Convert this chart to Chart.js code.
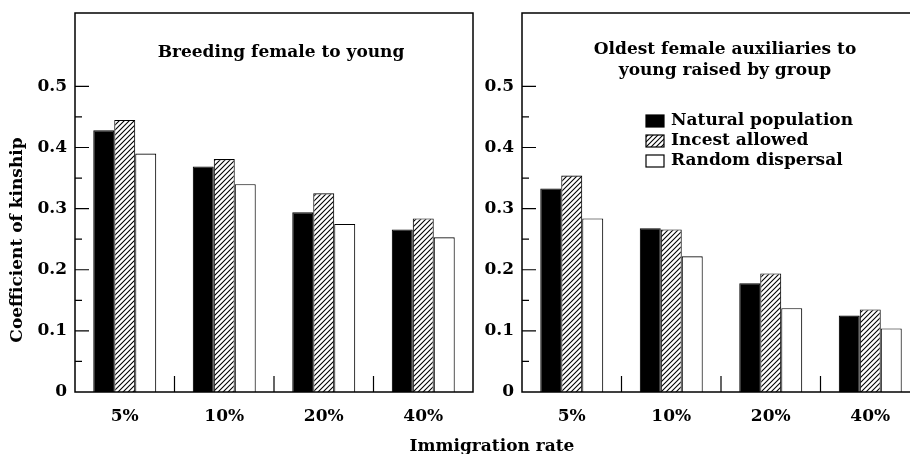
<!DOCTYPE html>
<html>
<head>
<meta charset="utf-8">
<script src="https://cdn.jsdelivr.net/npm/chart.js@4.4.1/dist/chart.umd.min.js"></script>
<style>
  html, body { margin: 0; padding: 0; background: #fff; overflow: hidden; }
  body { width: 910px; height: 454px; position: relative; }
  canvas { position: absolute; top: 0; }
  #leftChart { left: 0; }
  #rightChart { left: 478px; }
  #xtitle { position: absolute; left: 392px; width: 200px; top: 435px; text-align: center;
    font: bold 17px "DejaVu Serif", serif; color: #000; }
</style>
</head>
<body>
<canvas id="leftChart" width="480" height="454"></canvas>
<canvas id="rightChart" width="452" height="454"></canvas>
<div id="xtitle">Immigration rate</div>
<script>
var categories = ['5%', '10%', '20%', '40%'];
var seriesNames = ['Natural population', 'Incest allowed', 'Random dispersal'];
var yTicks = [0, 0.1, 0.2, 0.3, 0.4, 0.5];

// breeding female to young
var breedNatural = [0.428, 0.369, 0.294, 0.266];
var breedIncest  = [0.445, 0.381, 0.325, 0.284];
var breedRandom  = [0.390, 0.340, 0.275, 0.253];

// oldest female auxiliaries to young raised by group
var auxNatural = [0.333, 0.268, 0.178, 0.125];
var auxIncest  = [0.354, 0.266, 0.194, 0.135];
var auxRandom  = [0.284, 0.222, 0.137, 0.104];

var fontFamily = '"DejaVu Serif", serif';

function makeHatch() {
  var c = document.createElement('canvas');
  c.width = 5; c.height = 5;
  var g = c.getContext('2d');
  g.fillStyle = '#fff';
  g.fillRect(0, 0, 5, 5);
  g.strokeStyle = '#000';
  g.lineWidth = 1.1;
  g.beginPath();
  g.moveTo(0, 5); g.lineTo(5, 0);
  g.moveTo(-1, 1); g.lineTo(1, -1);
  g.moveTo(4, 6); g.lineTo(6, 4);
  g.stroke();
  return g.createPattern(c, 'repeat');
}
var hatch = makeHatch();
var fills = ['#000', hatch, '#fff'];

// frame, inward ticks, group separators, panel title, y title and legend
var panelPlugin = {
  id: 'panel',
  afterDraw: function (chart, args, opts) {
    var ctx = chart.ctx, a = chart.chartArea;
    var ys = chart.scales.y, xs = chart.scales.x;
    ctx.save();
    ctx.strokeStyle = '#000';
    ctx.lineWidth = 1.5;
    ctx.strokeRect(a.left, a.top, a.right - a.left, a.bottom - a.top);

    ctx.lineWidth = 1.2;
    ctx.beginPath();
    for (var i = 1; i < yTicks.length; i++) {
      var y = ys.getPixelForValue(yTicks[i]);
      ctx.moveTo(a.left, y); ctx.lineTo(a.left + 14, y);
      var ym = ys.getPixelForValue((yTicks[i] + yTicks[i - 1]) / 2);
      ctx.moveTo(a.left, ym); ctx.lineTo(a.left + 7, ym);
    }
    for (var j = 0; j < categories.length - 1; j++) {
      var x = (xs.getPixelForValue(j) + xs.getPixelForValue(j + 1)) / 2;
      ctx.moveTo(x, a.bottom); ctx.lineTo(x, a.bottom - 16);
    }
    ctx.stroke();

    ctx.fillStyle = '#000';
    ctx.font = 'bold 17px ' + fontFamily;
    ctx.textAlign = 'center';
    ctx.textBaseline = 'middle';
    var cx = (a.left + a.right) / 2 + opts.titleShift;
    opts.title.forEach(function (line, k) {
      ctx.fillText(line, cx, a.top + opts.titleTop + k * 21);
    });

    if (opts.yTitle) {
      ctx.save();
      ctx.translate(18, a.bottom - 152);
      ctx.rotate(-Math.PI / 2);
      ctx.fillText(opts.yTitle, 0, 0);
      ctx.restore();
    }

    if (opts.legend) {
      var lx = a.left + 124, ly = a.top + 102;
      ctx.textAlign = 'left';
      chart.data.datasets.forEach(function (ds, k) {
        var top = ly + k * 20;
        ctx.fillStyle = ds.backgroundColor;
        ctx.fillRect(lx, top, 18, 12);
        ctx.lineWidth = 1.2;
        ctx.strokeRect(lx, top, 18, 12);
        ctx.fillStyle = '#000';
        ctx.fillText(ds.label, lx + 25, top + 6);
      });
    }
    ctx.restore();
  }
};

function makeChart(id, data, opts) {
  return new Chart(document.getElementById(id), {
    type: 'bar',
    data: {
      labels: categories,
      datasets: data.map(function (vals, k) {
        return {
          label: seriesNames[k],
          data: vals,
          backgroundColor: fills[k],
          borderColor: '#000',
          borderWidth: 1.1,
          categoryPercentage: 0.633,
          barPercentage: 1
        };
      })
    },
    options: {
      responsive: false,
      animation: false,
      layout: { padding: { top: 13, right: opts.padRight, left: 0, bottom: 0 } },
      plugins: {
        legend: { display: false },
        tooltip: { enabled: false },
        panel: {
          title: opts.title, titleTop: opts.titleTop, titleShift: opts.titleShift,
          legend: opts.legend, yTitle: opts.yTitle
        }
      },
      scales: {
        x: {
          grid: { display: false, drawTicks: false },
          border: { display: false },
          ticks: { color: '#000', padding: 14, font: { family: fontFamily, size: 17, weight: 'bold' } },
          afterFit: function (s) { s.height = 62; }
        },
        y: {
          min: 0,
          max: 0.62,
          afterBuildTicks: function (s) { s.ticks = yTicks.map(function (v) { return { value: v }; }); },
          grid: { display: false, drawTicks: false },
          border: { display: false },
          ticks: {
            color: '#000', padding: 8,
            font: { family: fontFamily, size: 17, weight: 'bold' },
            callback: function (v) { return v === 0 ? '0' : v.toFixed(1); }
          },
          afterFit: function (s) {
            s.width = opts.yWidth;
            s.paddingTop = 0;
            s.paddingBottom = 0;
          }
        }
      }
    },
    plugins: [panelPlugin]
  });
}

makeChart('leftChart', [breedNatural, breedIncest, breedRandom], {
  title: ['Breeding female to young'], titleTop: 40, titleShift: 7,
  legend: false, yTitle: 'Coefficient of kinship', yWidth: 75, padRight: 7
});
makeChart('rightChart', [auxNatural, auxIncest, auxRandom], {
  title: ['Oldest female auxiliaries to', 'young raised by group'], titleTop: 37, titleShift: 4,
  legend: true, yTitle: '', yWidth: 44, padRight: 10
});
</script>
</body>
</html>
